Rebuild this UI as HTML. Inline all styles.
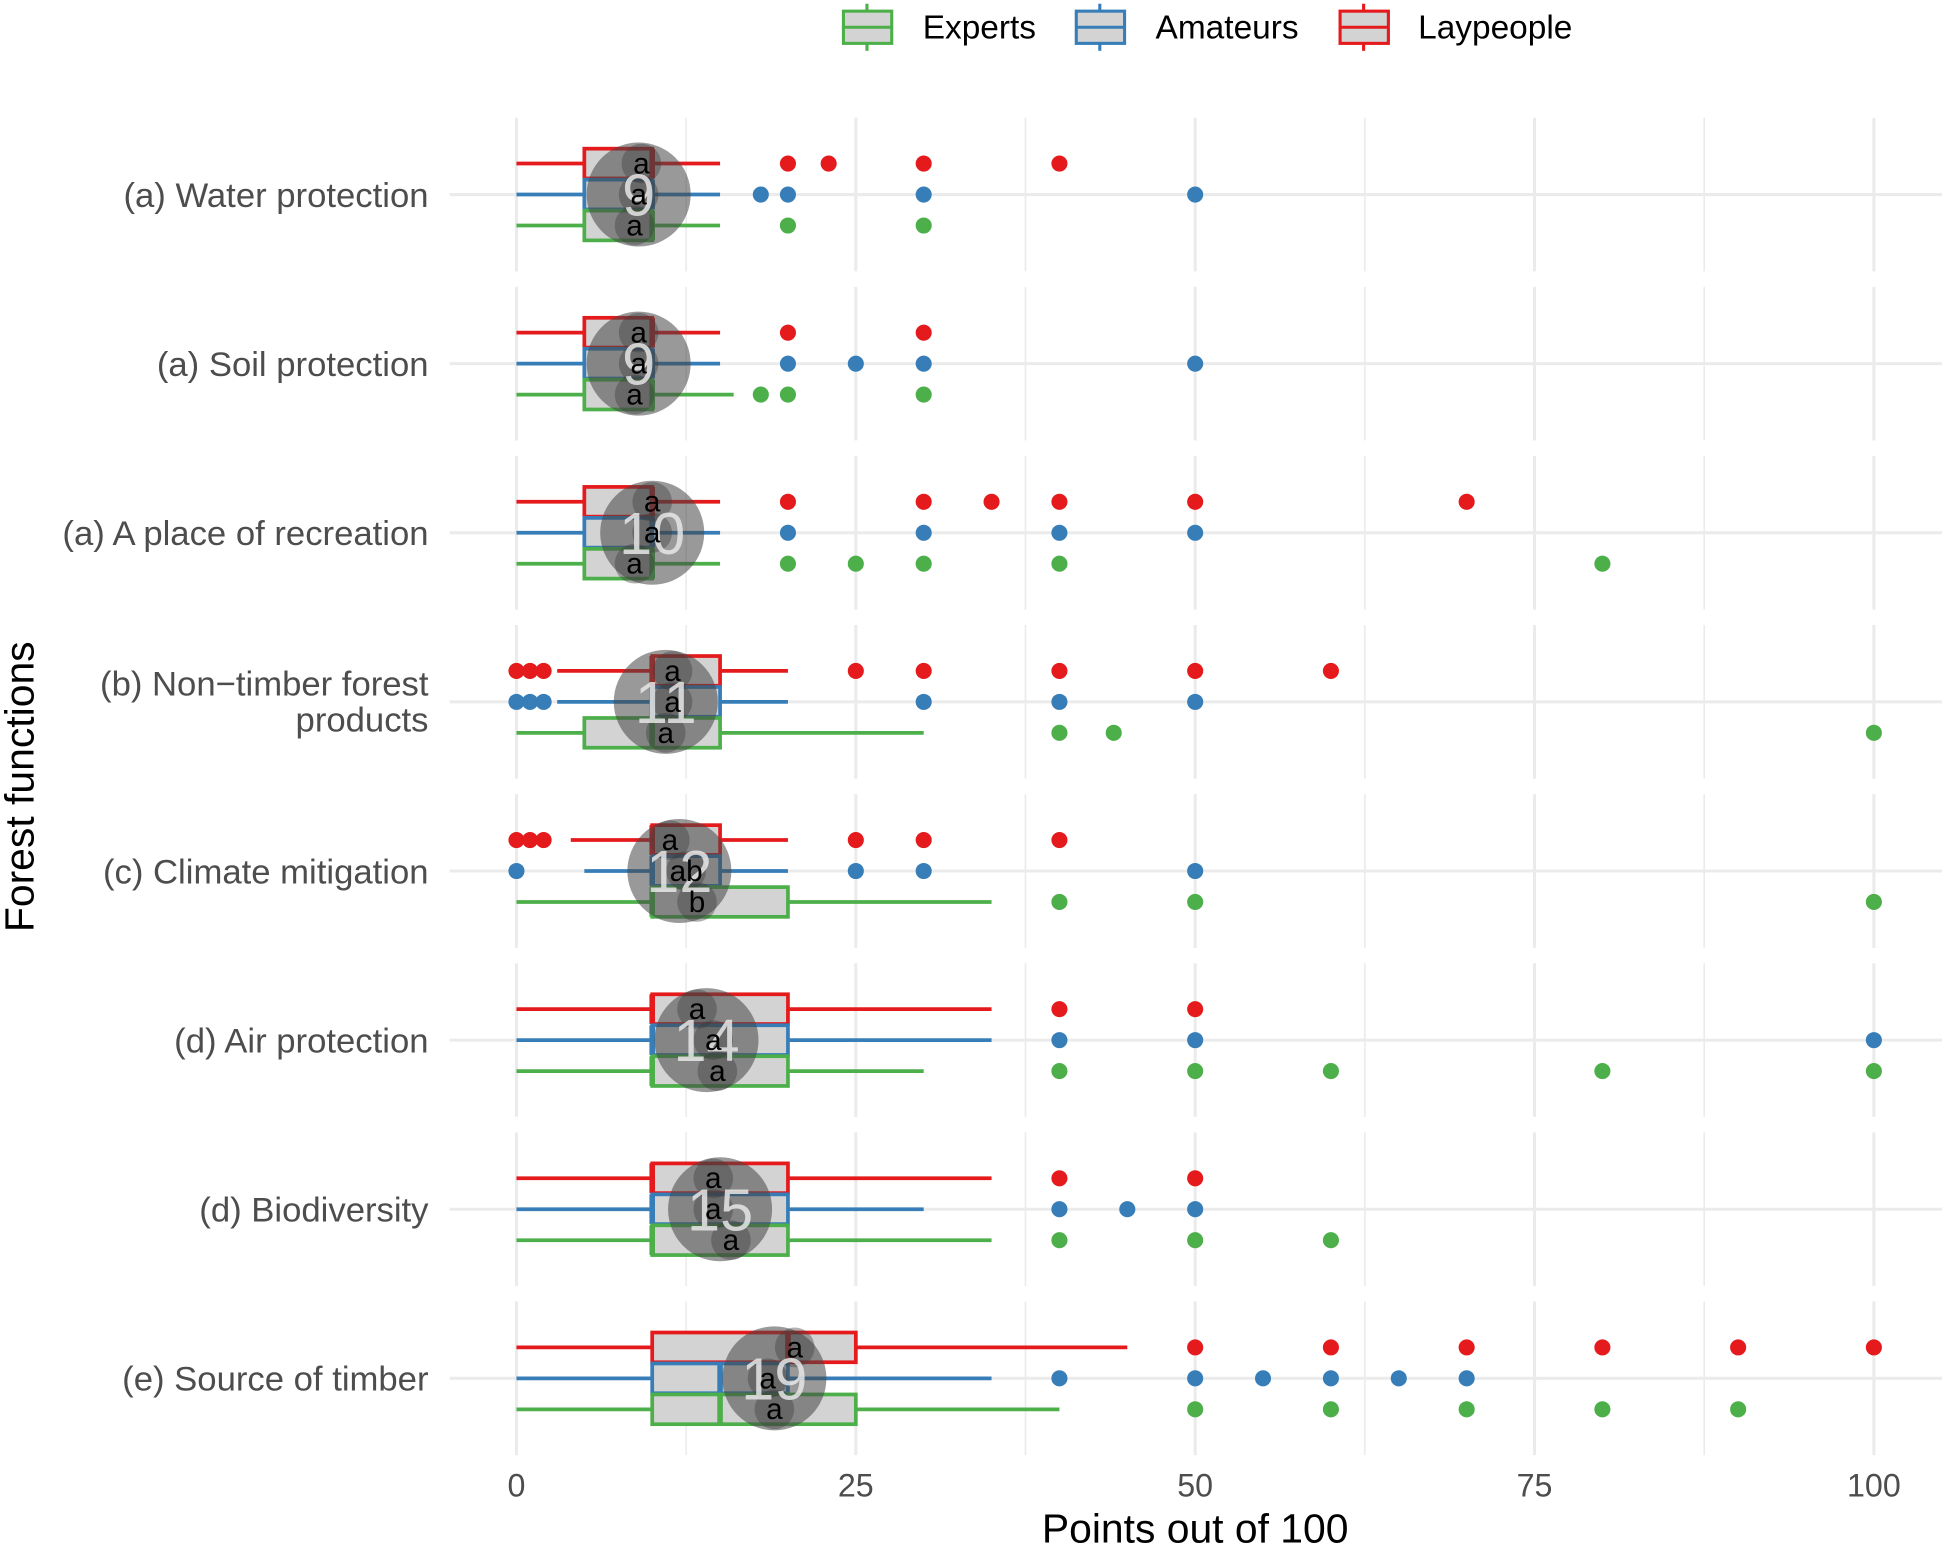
<!DOCTYPE html>
<html><head><meta charset="utf-8"><style>html,body{margin:0;padding:0;background:#fff}svg{display:block}</style></head>
<body>
<svg id="chart" width="1942" height="1545" viewBox="0 0 1568 1247" preserveAspectRatio="none" xmlns="http://www.w3.org/2000/svg" font-family="Liberation Sans, sans-serif">
<g id="grid"></g><g id="marks"></g><g id="labels"></g>
<g>
  <g>
    <line x1="700" y1="3" x2="700" y2="41" stroke="#4daf4a" stroke-width="2.5"/>
    <rect x="681" y="9" width="39" height="26" fill="#d3d3d3" stroke="#4daf4a" stroke-width="2.5"/>
    <line x1="681" y1="22" x2="720" y2="22" stroke="#4daf4a" stroke-width="2.5"/>
    <text x="745" y="31" font-size="27" fill="#000">Experts</text>
  </g>
  <g>
    <line x1="888" y1="3" x2="888" y2="41" stroke="#377eb8" stroke-width="2.5"/>
    <rect x="869" y="9" width="39" height="26" fill="#d3d3d3" stroke="#377eb8" stroke-width="2.5"/>
    <line x1="869" y1="22" x2="908" y2="22" stroke="#377eb8" stroke-width="2.5"/>
    <text x="933" y="31" font-size="27" fill="#000">Amateurs</text>
  </g>
  <g>
    <line x1="1101" y1="3" x2="1101" y2="41" stroke="#e41a1c" stroke-width="2.5"/>
    <rect x="1082" y="9" width="39" height="26" fill="#d3d3d3" stroke="#e41a1c" stroke-width="2.5"/>
    <line x1="1082" y1="22" x2="1121" y2="22" stroke="#e41a1c" stroke-width="2.5"/>
    <text x="1145" y="31" font-size="27" fill="#000">Laypeople</text>
  </g>
</g>
<text transform="translate(27,635) rotate(-90)" text-anchor="middle" font-size="33" fill="#000">Forest functions</text>
<text x="965" y="1245" text-anchor="middle" font-size="33" fill="#000">Points out of 100</text>
</svg>
<script>
const categories = ["(a) Water protection","(a) Soil protection","(a) A place of recreation","(b) Non\u2212timber forest|products","(c) Climate mitigation","(d) Air protection","(d) Biodiversity","(e) Source of timber"];
const meanRank = [9,9,10,11,12,14,15,19];
// per group: [whiskerLow, q1, median, q3, whiskerHigh]
const laypeopleBox = [[0,5,10,10,15],[0,5,10,10,15],[0,5,10,10,15],[3,10,10,15,20],[4,10,10,15,20],[0,10,10,20,35],[0,10,10,20,35],[0,10,20,25,45]];
const amateursBox  = [[0,5,10,10,15],[0,5,10,10,15],[0,5,10,10,15],[3,10,10,15,20],[5,10,10,15,20],[0,10,10,20,35],[0,10,10,20,30],[0,10,15,20,35]];
const expertsBox   = [[0,5,10,10,15],[0,5,10,10,16],[0,5,10,10,15],[0,5,10,15,30],[0,10,10,20,35],[0,10,10,20,30],[0,10,10,20,35],[0,10,15,25,40]];
const laypeopleOut = [[20,23,30,40],[20,30],[20,30,35,40,50,70],[0,1,2,25,30,40,50,60],[0,1,2,25,30,40],[40,50],[40,50],[50,60,70,80,90,100]];
const amateursOut  = [[18,20,30,50],[20,25,30,50],[20,30,40,50],[0,1,2,30,40,50],[0,25,30,50],[40,50,100],[40,45,50],[40,50,55,60,65,70]];
const expertsOut   = [[20,30],[18,20,30],[20,25,30,40,80],[40,44,100],[40,50,100],[40,50,60,80,100],[40,50,60],[50,60,70,80,90]];
const laypeopleMean = [9.2,9,10,11.5,11.3,13.3,14.5,20.5];
const amateursMean  = [9,9,10,11.5,12.5,14.5,14.5,18.5];
const expertsMean   = [8.7,8.7,8.7,11,13.3,14.8,15.8,19];
const laypeopleLetter = ["a","a","a","a","a","a","a","a"];
const amateursLetter  = ["a","a","a","a","ab","a","a","a"];
const expertsLetter   = ["a","a","a","a","b","a","a","a"];
const xTicks = [0,25,50,75,100];

const NS="http://www.w3.org/2000/svg";
const x = v => 417 + v*10.96;
const yRow = i => 157 + i*136.5;
function mk(tag, attrs, parent){const e=document.createElementNS(NS,tag);for(const k in attrs)e.setAttribute(k,attrs[k]);parent.appendChild(e);return e;}
const grid=document.getElementById('grid'), marks=document.getElementById('marks'), labels=document.getElementById('labels');

categories.forEach((c,i)=>{
  const cy=yRow(i);
  for(let t=0;t<=100;t+=12.5){
    const g=mk('line',{x1:x(t),x2:x(t),y1:cy-62,y2:cy+62,stroke:'#ebebeb','stroke-width':(t%25===0)?2.5:1.3},grid);
    
    
  }
  const h=mk('line',{x1:363,x2:1568,y1:cy,y2:cy,stroke:'#ebebeb','stroke-width':2.5},grid);
  
  
  const parts=c.split('|');
  const lt=mk('text',{x:346,y:parts.length>1?cy-5:cy+10,'text-anchor':'end','font-size':28,fill:'#4d4d4d'},labels);
  
  
  lt.textContent=parts[0];
  if(parts.length>1){const l2=mk('text',{x:346,y:cy+24,'text-anchor':'end','font-size':28,fill:'#4d4d4d'},labels);
    
    
    l2.textContent=parts[1];}
});
xTicks.forEach(t=>{
  const e=mk('text',{x:x(t),y:1208,'text-anchor':'middle','font-size':26,fill:'#4d4d4d'},labels);
  
  
  e.textContent=t;
});

const groups=[
  {name:'laypeople',color:'#e41a1c',off:-25,box:laypeopleBox,out:laypeopleOut},
  {name:'amateurs',color:'#377eb8',off:0,box:amateursBox,out:amateursOut},
  {name:'experts',color:'#4daf4a',off:25,box:expertsBox,out:expertsOut}];
categories.forEach((c,i)=>{
  groups.forEach(g=>{
    const cy=yRow(i)+g.off, b=g.box[i];
    const w=mk('line',{x1:x(b[0]),x2:x(b[4]),y1:cy,y2:cy,stroke:g.color,'stroke-width':3},marks);
    
    
    const r=mk('rect',{x:x(b[1]),y:cy-12,width:x(b[3])-x(b[1]),height:24,fill:'#d3d3d3',stroke:g.color,'stroke-width':3},marks);
    
    
    const m=mk('line',{x1:x(b[2]),x2:x(b[2]),y1:cy-12,y2:cy+12,stroke:g.color,'stroke-width':4.5},marks);
    
    
    g.out[i].forEach(v=>{
      const p=mk('circle',{cx:x(v),cy:cy,r:6.5,fill:g.color},marks);
      
      
    });
  });
  const cy=yRow(i);
  const big=mk('circle',{cx:x(meanRank[i]),cy:cy,r:42,fill:'rgba(70,70,70,0.55)'},marks);
  
  
  const lets=[[laypeopleMean,laypeopleLetter,-25],[amateursMean,amateursLetter,0],[expertsMean,expertsLetter,25]];
  lets.forEach(L=>{
    const cc=mk('circle',{cx:x(L[0][i]),cy:cy+L[2],r:16,fill:'rgba(60,60,60,0.4)'},marks);
    
    
  });
  const num=mk('text',{x:x(meanRank[i]),y:cy+17,'text-anchor':'middle','font-size':48,fill:'rgba(230,230,230,0.85)'},marks);
  
  
  num.textContent=meanRank[i];
  lets.forEach(L=>{
    const t=mk('text',{x:x(L[0][i]),y:cy+L[2]+8,'text-anchor':'middle','font-size':24,fill:'#000'},marks);
    
    
    t.textContent=L[1][i];
  });
});
</script>
</body></html>
